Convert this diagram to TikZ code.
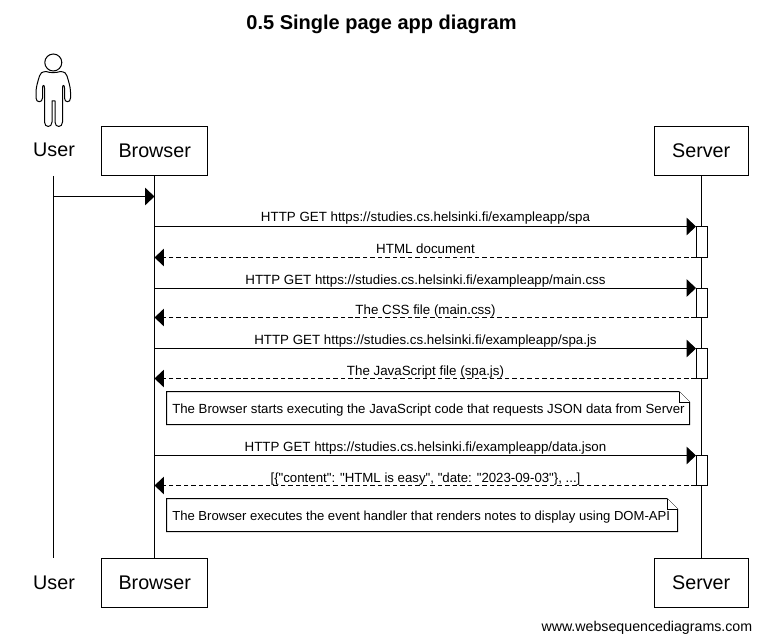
\documentclass[tikz,border=0pt]{standalone}
\usepackage{fontspec}
\setmainfont{Liberation Sans}
\newfontfamily\plainfont{Liberation Sans}
\usetikzlibrary{arrows.meta}
\tikzset{
  actorbox/.style={draw=black,fill=white,line width=0.75pt,minimum height=36.75pt,inner sep=0pt,font=\fontsize{14.8}{18}\selectfont},
  actorlabel/.style={inner sep=0pt,font=\fontsize{14.8}{18}\selectfont},
  msglabel/.style={inner sep=0pt,anchor=base,font=\fontsize{10}{12}\selectfont},
  notetext/.style={inner sep=0pt,anchor=base west,font=\fontsize{9.92}{12}\selectfont},
  lifeline/.style={line width=0.75pt},
  msg/.style={line width=0.75pt,-{Triangle[length=7pt,width=13pt,fill=black]},shorten >=0pt},
  reply/.style={msg,dash pattern=on 3.4pt off 2.2pt},
  activation/.style={draw=black,fill=white,line width=0.75pt},
  notebox/.style={draw=black,fill=white,line width=0.75pt,line join=miter}
}
\begin{document}
\begin{tikzpicture}[x=0.75pt,y=-0.75pt]
\useasboundingbox (0,0) rectangle (762,641);
\fill[white] (0,0) rectangle (762,641);
% lifelines
\coordinate (usertop) at (53.5,176);
\coordinate (userbot) at (53.5,558);
\coordinate (brtop) at (154.5,175);
\coordinate (brbot) at (154.5,558);
\coordinate (svtop) at (701.5,175);
\coordinate (svbot) at (701.5,558);
\draw[lifeline] (usertop) -- (userbot);
\draw[lifeline] (brtop) -- (brbot);
\draw[lifeline] (svtop) -- (svbot);
% title
\node[inner sep=0pt,anchor=base,font=\bfseries\fontsize{15}{18}\selectfont] (title) at (381.5,30) {0.5 Single page app diagram};
% actors
\node[actorbox,minimum width=79.9pt] (browsertop) at (154.7,150.7) {Browser};
\node[actorbox,minimum width=70.2pt] (servertop) at (701.2,150.7) {Server};
\node[actorbox,minimum width=79.9pt] (browserbot) at (154.7,583) {Browser};
\node[actorbox,minimum width=70.2pt] (serverbot) at (701.2,583) {Server};
\node[actorlabel] (usertoplabel) at (54,150) {User};
\node[actorlabel] (userbotlabel) at (54,583) {User};
% stick figure
\draw[line width=0.75pt,fill=white] (53.3,62.5) circle[radius=8.5];
\draw[line width=0.75pt,line join=round]
  (46,71.5) .. controls (42,72) and (40,73) .. (39.5,76)
  .. controls (38,81) and (36,87) .. (36,92) -- (36,98)
  .. controls (36,103) and (42.5,103) .. (42.5,98) -- (42.5,88)
  .. controls (42.5,85) and (44.5,84) .. (44.5,88) -- (44.5,122)
  .. controls (44.5,128) and (52,128) .. (52,122) -- (52,101) -- (55,101) -- (55,122)
  .. controls (55,128) and (62.5,128) .. (62.5,122) -- (62.5,88)
  .. controls (62.5,84) and (64.5,85) .. (64.5,88) -- (64.5,98)
  .. controls (64.5,103) and (70.5,103) .. (70.5,98) -- (70.5,92)
  .. controls (70.5,87) and (68.5,81) .. (67,76)
  .. controls (66.5,73) and (64.5,72) .. (60.5,71.5)
  .. controls (56,73) and (50,73) .. (46,71.5);
% activations
\draw[activation] (696.5,226.5) rectangle (707,257);
\draw[activation] (696.5,288) rectangle (707,317.5);
\draw[activation] (696.5,348.5) rectangle (707,378.5);
\draw[activation] (696.5,455.5) rectangle (707,485.5);
% messages
\coordinate (u0) at (54,196.5); \coordinate (b0) at (154.5,196.5);
\draw[msg] (u0) -- (b0);
\coordinate (b1) at (155,226.5); \coordinate (s1) at (696,226.5);
\draw[msg] (b1) -- (s1);
\node[msglabel] (m1) at (425.5,222) {HTTP GET https://studies.cs.helsinki.fi/exampleapp/spa};
\coordinate (s2) at (696,257.5); \coordinate (b2) at (154.5,257.5);
\draw[reply] (s2) -- (b2);
\node[msglabel] (m2) at (425.5,253) {HTML document};
\coordinate (b3) at (155,288); \coordinate (s3) at (696,288);
\draw[msg] (b3) -- (s3);
\node[msglabel] (m3) at (425.5,284) {HTTP GET https://studies.cs.helsinki.fi/exampleapp/main.css};
\coordinate (s4) at (696,317.5); \coordinate (b4) at (154.5,317.5);
\draw[reply] (s4) -- (b4);
\node[msglabel] (m4) at (425.5,314) {The CSS file (main.css)};
\coordinate (b5) at (155,348.5); \coordinate (s5) at (696,348.5);
\draw[msg] (b5) -- (s5);
\node[msglabel] (m5) at (425.5,344) {HTTP GET https://studies.cs.helsinki.fi/exampleapp/spa.js};
\coordinate (s6) at (696,378.5); \coordinate (b6) at (154.5,378.5);
\draw[reply] (s6) -- (b6);
\node[msglabel] (m6) at (425.5,375) {The JavaScript file (spa.js)};
\coordinate (b7) at (155,455.5); \coordinate (s7) at (696,455.5);
\draw[msg] (b7) -- (s7);
\node[msglabel] (m7) at (425.5,451) {HTTP GET https://studies.cs.helsinki.fi/exampleapp/data.json};
\coordinate (s8) at (696,485.5); \coordinate (b8) at (154.5,485.5);
\draw[reply] (s8) -- (b8);
\node[msglabel,font=\plainfont\fontsize{9.93}{12}\selectfont] (m8) at (425.5,482) {[\{"content": "HTML is easy", "date: "2023-09-03"\}, ...]};
% notes
\draw[notebox] (166.5,391.5) -- (679,391.5) -- (689.5,402) -- (689.5,424.5) -- (166.5,424.5) -- cycle;
\draw[notebox] (679,391.5) -- (679,402) -- (689.5,402);
\node[notetext] (n1) at (172,413) {The Browser starts executing the JavaScript code that requests JSON data from Server};
\draw[notebox] (166.5,498.5) -- (667,498.5) -- (677.5,509) -- (677.5,531.5) -- (166.5,531.5) -- cycle;
\draw[notebox] (667,498.5) -- (667,509) -- (677.5,509);
\node[notetext,font=\fontsize{9.82}{12}\selectfont] (n2) at (172,520) {The Browser executes the event handler that renders notes to display using DOM-API};
% watermark
\node[inner sep=0pt,anchor=base east,font=\fontsize{10.65}{12}\selectfont] (wm) at (752.5,631) {www.websequencediagrams.com};
\end{tikzpicture}
\end{document}
